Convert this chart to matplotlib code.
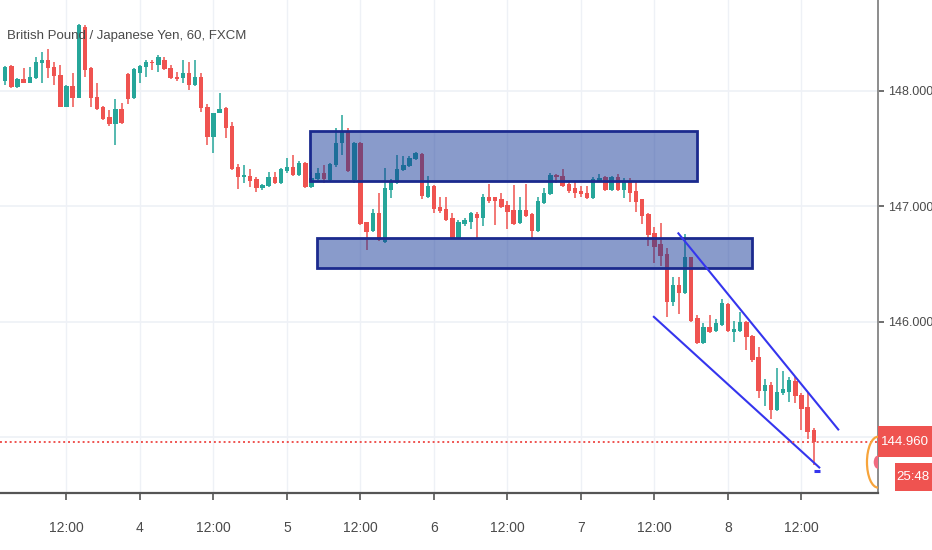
import matplotlib
matplotlib.use('Agg')
import matplotlib.pyplot as plt
import matplotlib.transforms as mtransforms
from matplotlib.patches import Rectangle, Ellipse
import numpy as np

# ---------------- data (GBP/JPY, 60 min, FXCM) ----------------
# hours relative to day "4" 00:00
bar_hours = list(range(-22, 111))
opens = [148.086, 148.216, 148.032, 148.101, 148.066, 148.110, 148.240, 148.265, 148.205, 148.135,
         147.858, 148.040, 147.936, 148.551, 148.196, 147.945, 147.858, 147.772, 147.711, 147.841,
         148.144, 147.936, 148.153, 148.205, 148.248, 148.222, 148.265, 148.196, 148.118, 148.110,
         148.153, 148.049, 148.118, 147.858, 147.599, 147.806, 147.850, 147.694, 147.339, 147.252,
         147.261, 147.235, 147.157, 147.174, 147.252, 147.200, 147.304, 147.339, 147.270, 147.373,
         147.166, 147.235, 147.287, 147.226, 147.356, 147.547, 147.651, 147.226, 147.547, 146.863,
         146.785, 146.941, 146.690, 147.140, 147.200, 147.313, 147.348, 147.408, 147.451, 147.079,
         147.174, 146.993, 146.975, 146.897, 146.724, 146.845, 146.863, 146.932, 146.897, 147.079,
         147.079, 147.062, 147.010, 146.967, 146.854, 146.967, 146.932, 146.785, 147.027, 147.105,
         147.270, 147.261, 147.192, 147.157, 147.131, 147.114, 147.071, 147.218, 147.252, 147.140,
         147.252, 147.140, 147.209, 147.131, 147.062, 146.932, 146.767, 146.672, 146.585, 146.170,
         146.317, 146.248, 146.559, 146.031, 145.815, 145.953, 145.918, 145.970, 146.152, 145.910,
         145.918, 145.996, 145.875, 145.693, 145.399, 145.451, 145.234, 145.382, 145.390, 145.486,
         145.365, 145.260, 145.061]
highs = [148.213, 148.222, 148.107, 148.196, 148.205, 148.291, 148.335, 148.361, 148.248, 148.222,
         148.049, 148.153, 148.575, 148.569, 148.205, 148.066, 147.867, 147.832, 147.925, 147.893,
         148.153, 148.200, 148.222, 148.265, 148.265, 148.309, 148.291, 148.222, 148.161, 148.265,
         148.248, 148.265, 148.153, 147.884, 147.806, 147.980, 147.858, 147.729, 147.365, 147.356,
         147.322, 147.252, 147.192, 147.296, 147.296, 147.330, 147.417, 147.443, 147.391, 147.382,
         147.296, 147.330, 147.356, 147.373, 147.677, 147.789, 147.677, 147.556, 147.556, 146.863,
         146.975, 147.114, 147.330, 147.235, 147.443, 147.434, 147.434, 147.469, 147.460, 147.261,
         147.183, 147.079, 147.079, 146.941, 146.880, 146.897, 146.950, 146.950, 147.105, 147.192,
         147.079, 147.114, 147.045, 147.183, 147.079, 147.192, 146.941, 147.079, 147.157, 147.287,
         147.278, 147.322, 147.209, 147.218, 147.174, 147.174, 147.252, 147.278, 147.261, 147.261,
         147.278, 147.244, 147.244, 147.209, 147.062, 146.941, 146.819, 146.854, 146.637, 146.386,
         146.386, 146.759, 146.559, 146.057, 145.988, 146.057, 146.022, 146.196, 146.161, 146.005,
         146.083, 146.005, 145.884, 145.780, 145.503, 145.477, 145.598, 145.572, 145.520, 145.520,
         145.382, 145.382, 145.078]
lows = [148.049, 148.026, 148.020, 148.063, 148.063, 148.101, 148.066, 148.110, 148.049, 147.855,
        147.855, 147.858, 147.936, 148.118, 147.858, 147.832, 147.746, 147.694, 147.529, 147.716,
        147.884, 147.927, 148.066, 148.118, 148.179, 148.164, 148.179, 148.101, 148.084, 148.066,
        148.006, 148.040, 147.815, 147.529, 147.460, 147.806, 147.590, 147.313, 147.148, 147.200,
        147.166, 147.122, 147.140, 147.166, 147.192, 147.192, 147.287, 147.261, 147.261, 147.157,
        147.157, 147.226, 147.200, 147.218, 147.339, 147.443, 147.296, 147.200, 146.836, 146.620,
        146.776, 146.698, 146.681, 147.071, 147.192, 147.304, 147.339, 147.399, 147.062, 147.071,
        146.941, 146.941, 146.871, 146.715, 146.715, 146.828, 146.802, 146.724, 146.828, 147.027,
        146.837, 146.984, 146.802, 146.836, 146.845, 146.906, 146.715, 146.776, 147.018, 147.097,
        147.200, 147.166, 147.114, 147.071, 147.079, 147.062, 147.062, 147.209, 147.131, 147.131,
        147.131, 147.071, 147.036, 146.949, 146.845, 146.655, 146.507, 146.482, 146.040, 146.135,
        146.066, 146.239, 145.996, 145.806, 145.806, 145.901, 145.910, 145.962, 145.910, 145.823,
        145.910, 145.754, 145.650, 145.338, 145.269, 145.157, 145.226, 145.365, 145.304, 145.295,
        145.061, 144.983, 144.760]
closes = [148.207, 148.029, 148.101, 148.066, 148.118, 148.248, 148.265, 148.196, 148.127, 147.858,
          148.040, 147.936, 148.569, 148.179, 147.936, 147.841, 147.754, 147.711, 147.841, 147.720,
          147.928, 148.190, 148.213, 148.248, 148.240, 148.289, 148.187, 148.110, 148.101, 148.153,
          148.049, 148.118, 147.850, 147.599, 147.806, 147.841, 147.677, 147.322, 147.252, 147.270,
          147.218, 147.157, 147.183, 147.252, 147.200, 147.322, 147.339, 147.270, 147.373, 147.166,
          147.244, 147.287, 147.235, 147.365, 147.547, 147.642, 147.304, 147.547, 146.845, 146.776,
          146.941, 146.707, 147.157, 147.209, 147.322, 147.356, 147.417, 147.460, 147.088, 147.174,
          146.975, 146.958, 146.880, 146.715, 146.863, 146.880, 146.941, 146.897, 147.079, 147.045,
          147.045, 146.993, 146.949, 146.845, 146.967, 146.915, 146.785, 147.045, 147.114, 147.270,
          147.252, 147.174, 147.131, 147.114, 147.105, 147.071, 147.235, 147.244, 147.140, 147.252,
          147.140, 147.209, 147.114, 147.036, 146.915, 146.750, 146.646, 146.568, 146.170, 146.317,
          146.248, 146.559, 146.005, 145.815, 145.953, 145.910, 145.988, 146.161, 145.918, 145.936,
          145.996, 145.867, 145.667, 145.399, 145.451, 145.234, 145.390, 145.416, 145.494, 145.356,
          145.243, 145.044, 144.960]

x_ticks = [-12, 0, 12, 24, 36, 48, 60, 72, 84, 96, 108]
x_labels = ['12:00', '4', '12:00', '5', '12:00', '6', '12:00', '7', '12:00', '8', '12:00']
y_ticks = [146.0, 147.0, 148.0]
y_labels = ['146.000', '147.000', '148.000']
title = 'British Pound / Japanese Yen, 60, FXCM'
last_price_label = '144.960'
countdown_label = '25:48'

# drawings: zones (t0, t1, p_low, p_high) and channel lines ((t0, p0), (t1, p1))
zone_t0 = [27.8, 28.9]
zone_t1 = [90.9, 99.9]
zone_lo = [147.218, 146.464]
zone_hi = [147.651, 146.724]
channel_upper = [(87.9, 146.765), (114.0, 145.067)]
channel_lower = [(83.9, 146.042), (110.9, 144.738)]
dash_line = [(110.0, 144.706), (111.1, 144.706)]

# ---------------- style ----------------
GREEN = '#26a69a'
RED = '#ef5350'
GRID = '#eef1f6'
TXT = '#4a4a4a'
FONT = ['Liberation Sans Narrow', 'Liberation Sans', 'DejaVu Sans']
plt.rcParams['font.family'] = FONT
plt.rcParams['font.stretch'] = 'condensed'

W, H = 932, 550
fig = plt.figure(figsize=(W / 100, H / 100), dpi=100)
fig.patch.set_facecolor('white')
ax = fig.add_axes([0, 1 - 493 / H, 878 / W, 493 / H])
ax.set_facecolor('white')

o = np.array(opens); hi = np.array(highs); lo = np.array(lows); c = np.array(closes)
t = np.array(bar_hours)
up = c >= o
cols = np.where(up, GREEN, RED)

# grid
for xt in x_ticks:
    ax.axvline(xt, color=GRID, lw=1, zorder=0)
for yt in y_ticks + [145.0]:
    ax.axhline(yt, color=GRID, lw=1.2, zorder=0)

ax.vlines(t, lo, hi, colors=cols, lw=1.1, zorder=2)
body_lo = np.minimum(o, c)
body_h = np.maximum(np.abs(c - o), 0.012)
ax.bar(t, body_h, bottom=body_lo, width=0.7, color=cols, linewidth=0, zorder=3)

# zones
for t0, t1, pl, ph in zip(zone_t0, zone_t1, zone_lo, zone_hi):
    ax.add_patch(Rectangle((t0, pl), t1 - t0, ph - pl,
                           facecolor=(21 / 255, 56 / 255, 153 / 255, 0.5),
                           edgecolor='#1b2a8e', lw=2, zorder=4))

# channel
for seg in (channel_upper, channel_lower):
    ax.plot([seg[0][0], seg[1][0]], [seg[0][1], seg[1][1]], color='#3535ee', lw=1.5, zorder=5)
ax.plot([dash_line[0][0], dash_line[1][0]], [dash_line[0][1], dash_line[1][1]],
        color='#3535ee', lw=2.2, zorder=5, solid_capstyle='butt')

# last price line
last = closes[-1]
ax.axhline(last, color=RED, lw=1.4, ls=(0, (1, 1.5)), zorder=5)

ax.set_xlim(-22.857, 120.49)
ax.set_ylim(144.517, 148.7853)

# orange countdown arc and dot at right edge
xr = 120.49
ax.add_patch(Ellipse((xr, 144.784), 3.6, 0.44, fill=False, edgecolor='#f7a43b', lw=1.6, zorder=6))
ax.add_patch(Ellipse((xr, 144.784), 1.4, 0.115, facecolor='#f06b80', edgecolor='none', zorder=6))

# axes styling
for s in ['left', 'top']:
    ax.spines[s].set_visible(False)
ax.spines['right'].set_color('#8c8c8c')
ax.spines['right'].set_linewidth(1.4)
ax.spines['bottom'].set_color('#555555')
ax.spines['bottom'].set_linewidth(1.6)
ax.yaxis.tick_right()
ax.set_yticks(y_ticks)
ax.set_yticklabels(y_labels)
ax.set_xticks(x_ticks)
ax.set_xticklabels(x_labels)
ax.tick_params(axis='y', direction='out', length=4, width=1.2, color='#555555',
               labelcolor=TXT, labelsize=9, pad=3)
ax.tick_params(axis='x', direction='out', length=5, width=1.2, color='#555555',
               labelcolor=TXT, labelsize=10, pad=15)

# title
fig.text(7 / W, 1 - 36 / H, title, color=TXT, fontsize=9.5, ha='left', va='center')

# price labels on the right axis
bt = mtransforms.blended_transform_factory(fig.transFigure, ax.transData)
ax_h = 148.7853 - 144.517
ppx = ax_h / 493.0  # price per pixel
fig.add_artist(Rectangle((878 / W, last - 15 * ppx), 54 / W, 31 * ppx, transform=bt,
                         facecolor=RED, edgecolor='none', clip_on=False))
fig.text(905 / W, last, last_price_label, transform=bt, color='white', fontsize=9.5,
         ha='center', va='center')
cd_y = last - 35 * ppx
fig.add_artist(Rectangle((895 / W, cd_y - 14 * ppx), 37 / W, 28 * ppx, transform=bt,
                         facecolor=RED, edgecolor='none', clip_on=False))
fig.text(913 / W, cd_y, countdown_label, transform=bt, color='white', fontsize=9.5,
         ha='center', va='center')

fig.savefig('out.png', dpi=100, facecolor='white')
